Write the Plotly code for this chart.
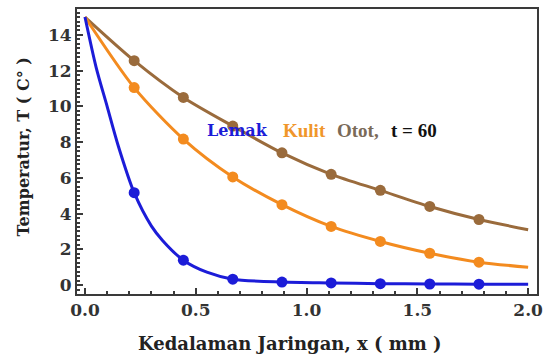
import plotly.graph_objects as go

# Data
x_markers = [0.222, 0.444, 0.667, 0.889, 1.111, 1.333, 1.556, 1.778]
otot_markers = [12.56, 10.5, 8.9, 7.4, 6.2, 5.3, 4.4, 3.67]
kulit_markers = [11.05, 8.17, 6.05, 4.5, 3.28, 2.44, 1.78, 1.28]
lemak_markers = [5.17, 1.39, 0.33, 0.17, 0.12, 0.08, 0.06, 0.05]

# Curve samples
otot_curve_x = [0.0, 0.222, 0.444, 0.667, 0.889, 1.111, 1.333, 1.556, 1.778, 2.0]
otot_curve_y = [15.0, 12.56, 10.5, 8.9, 7.4, 6.2, 5.3, 4.4, 3.67, 3.1]
kulit_curve_x = [0.0, 0.222, 0.444, 0.667, 0.889, 1.111, 1.333, 1.556, 1.778, 2.0]
kulit_curve_y = [15.0, 11.05, 8.17, 6.05, 4.5, 3.28, 2.44, 1.78, 1.28, 1.0]
lemak_curve_x = [0.0, 0.05, 0.1, 0.15, 0.222, 0.3, 0.35, 0.444, 0.55, 0.667, 0.889, 1.111, 1.333, 1.556, 1.778, 2.0]
lemak_curve_y = [15.0, 12.2, 10.0, 7.8, 5.17, 3.3, 2.5, 1.39, 0.72, 0.33, 0.17, 0.12, 0.08, 0.06, 0.05, 0.04]

x_ticks = [0.0, 0.5, 1.0, 1.5, 2.0]
x_ticktext = ["0.0", "0.5", "1.0", "1.5", "2.0"]
y_ticks = [0, 2, 4, 6, 8, 10, 12, 14]

# Inline label pieces: (text, x, colour, font family, size)
label_parts = [
    ("Lemak", 0.54, "#1c1cd8", "DejaVu Serif", 16),
    ("Kulit", 0.884, "#f0962a", "Liberation Serif, Times New Roman, serif", 19),
    ("Otot,", 1.13, "#7a6a58", "Liberation Serif, Times New Roman, serif", 19),
    ("t = 60", 1.37, "#111111", "Liberation Serif, Times New Roman, serif", 19),
]
label_y = 8.67

BLUE = "#1c1cd8"
ORANGE = "#f38b1f"
BROWN = "#9a6b3c"

fig = go.Figure()
for cx, cy, mx, my, col in [
    (otot_curve_x, otot_curve_y, x_markers, otot_markers, BROWN),
    (kulit_curve_x, kulit_curve_y, x_markers, kulit_markers, ORANGE),
    (lemak_curve_x, lemak_curve_y, x_markers, lemak_markers, BLUE),
]:
    fig.add_trace(go.Scatter(x=cx, y=cy, mode="lines",
                             line=dict(color=col, width=3, shape="spline", smoothing=0.8),
                             showlegend=False, hoverinfo="skip"))
    fig.add_trace(go.Scatter(x=mx, y=my, mode="markers",
                             marker=dict(color=col, size=11),
                             showlegend=False))

axis_common = dict(showline=True, linecolor="#3a3a3a", linewidth=2, mirror=True,
                   showgrid=False, zeroline=False, ticks="inside", tickcolor="#3a3a3a",
                   ticklen=6, tickwidth=1.5,
                   tickfont=dict(family="DejaVu Serif", size=17, color="#333333", weight="bold"))

fig.update_xaxes(range=[-0.036, 2.04], tickvals=x_ticks, ticktext=x_ticktext,
                 minor=dict(ticks="inside", dtick=0.1, tick0=0, ticklen=3, tickcolor="#3a3a3a"),
                 **axis_common)
fig.update_yaxes(range=[-0.5, 15.45], tickvals=y_ticks,
                 minor=dict(ticks="inside", dtick=0.25, tick0=0, ticklen=3, tickcolor="#3a3a3a"),
                 **axis_common)

fig.add_annotation(x=0.924, y=-0.5, xref="x", yref="y", yshift=-49, showarrow=False,
                   xanchor="center",
                   text="<b>Kedalaman Jaringan, x ( mm )</b>",
                   font=dict(family="DejaVu Serif", size=18, color="#222222"))
fig.add_annotation(x=0, y=7.7, xref="paper", yref="y", xshift=-54, showarrow=False,
                   xanchor="center", textangle=-90, text="<b>Temperatur, T ( C° )</b>",
                   font=dict(family="DejaVu Serif", size=16, color="#222222"))
for txt, lx, col, fam, sz in label_parts:
    fig.add_annotation(x=lx, y=label_y, xref="x", yref="y", showarrow=False, xanchor="left",
                       text="<b>" + txt + "</b>", font=dict(family=fam, size=sz, color=col))

fig.update_layout(width=550, height=356, margin=dict(l=77, r=8, t=7, b=62),
                  plot_bgcolor="white", paper_bgcolor="white")

fig.write_html("out.html")
